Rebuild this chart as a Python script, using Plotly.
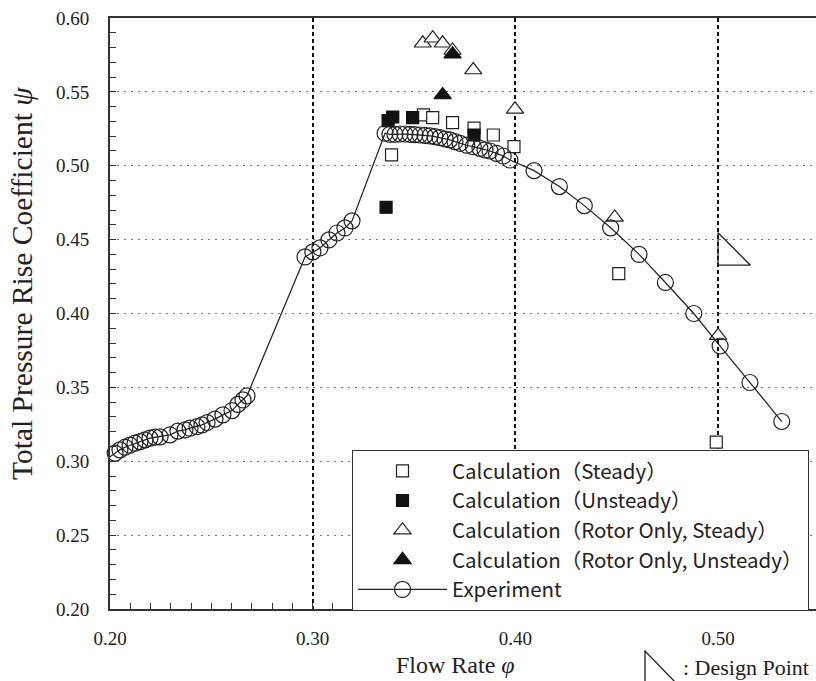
import plotly.graph_objects as go

# ---------------- data ----------------
exp_phi = [0.1997, 0.2025, 0.2049, 0.2074, 0.2099, 0.2123, 0.2148, 0.2173, 0.2197, 0.2222,
           0.2247, 0.2296, 0.2335, 0.2370, 0.2395, 0.2429, 0.2454, 0.2479, 0.2518, 0.2557,
           0.2602, 0.2631, 0.2656, 0.2676,
           0.2962, 0.3001, 0.3036, 0.3080, 0.3120, 0.3159, 0.3194,
           0.3357, 0.3381, 0.3406, 0.3431, 0.3455, 0.3480, 0.3505, 0.3529, 0.3554, 0.3579,
           0.3603, 0.3628, 0.3653, 0.3677, 0.3702, 0.3727, 0.3760, 0.3792, 0.3825, 0.3850,
           0.3875, 0.3907, 0.3940, 0.3973,
           0.4092, 0.4217, 0.4340, 0.4470, 0.4610, 0.4740, 0.4880, 0.5010, 0.5157, 0.5314]
exp_psi = [0.3028, 0.3055, 0.3077, 0.3095, 0.3109, 0.3122, 0.3133, 0.3145, 0.3156, 0.3163,
           0.3165, 0.3179, 0.3204, 0.3212, 0.3224, 0.3235, 0.3246, 0.3262, 0.3285, 0.3314,
           0.3343, 0.3385, 0.3415, 0.3443,
           0.4383, 0.4417, 0.4444, 0.4498, 0.4545, 0.4579, 0.4627,
           0.5220, 0.5213, 0.5213, 0.5215, 0.5215, 0.5213, 0.5211, 0.5208, 0.5206, 0.5202,
           0.5197, 0.5190, 0.5181, 0.5175, 0.5163, 0.5152, 0.5139, 0.5129, 0.5118, 0.5107,
           0.5100, 0.5084, 0.5066, 0.5039,
           0.4967, 0.4859, 0.4730, 0.4580, 0.4400, 0.4210, 0.4000, 0.3780, 0.3533, 0.3269]

steady_phi = [0.3389, 0.3546, 0.3592, 0.3690, 0.3796, 0.3891, 0.3993, 0.4510, 0.4991]
steady_psi = [0.5073, 0.5344, 0.5326, 0.5292, 0.5254, 0.5208, 0.5129, 0.4270, 0.3129]

unsteady_phi = [0.3362, 0.3372, 0.3395, 0.3493, 0.3796]
unsteady_psi = [0.4719, 0.5305, 0.5330, 0.5326, 0.5208]

rotor_steady_phi = [0.3543, 0.3592, 0.3641, 0.3690, 0.3792, 0.3998, 0.4490, 0.5000]
rotor_steady_psi = [0.5829, 0.5863, 0.5829, 0.5780, 0.5648, 0.5382, 0.4650, 0.3850]

rotor_unsteady_phi = [0.3641, 0.3690]
rotor_unsteady_psi = [0.5479, 0.5755]

design_phi = [0.5053]
design_psi = [0.4400]

x_ticks = [0.20, 0.30, 0.40, 0.50]
x_ticktext = ["0.20", "0.30", "0.40", "0.50"]

legend_names = ["Calculation（Steady）", "Calculation（Unsteady）",
                "Calculation（Rotor Only, Steady）", "Calculation（Rotor Only, Unsteady）",
                "Experiment"]

# ---------------- figure ----------------
INK = "#222222"
fig = go.Figure()

fig.add_trace(go.Scatter(x=steady_phi, y=steady_psi, mode="markers", name=legend_names[0],
                         legendgroup="g1",
                         marker=dict(symbol="square", size=12, color="white",
                                     line=dict(color=INK, width=1.2))))
fig.add_trace(go.Scatter(x=unsteady_phi, y=unsteady_psi, mode="markers", name=legend_names[1],
                         legendgroup="g2",
                         marker=dict(symbol="square", size=12, color="#111111",
                                     line=dict(color="#111111", width=1.2))))
fig.add_trace(go.Scatter(x=rotor_steady_phi, y=rotor_steady_psi, mode="markers", name=legend_names[2],
                         legendgroup="g3",
                         marker=dict(symbol="triangle-up", size=15, color="white",
                                     line=dict(color=INK, width=1.2))))
fig.add_trace(go.Scatter(x=rotor_unsteady_phi, y=rotor_unsteady_psi, mode="markers", name=legend_names[3],
                         legendgroup="g4",
                         marker=dict(symbol="triangle-up", size=15, color="#111111",
                                     line=dict(color="#111111", width=1.2))))
fig.add_trace(go.Scatter(x=exp_phi, y=exp_psi, mode="lines+markers", name=legend_names[4],
                         legendgroup="g5", cliponaxis=False,
                         line=dict(color=INK, width=1.2),
                         marker=dict(symbol="circle-open", size=16, color=INK,
                                     line=dict(color=INK, width=1.2))))
fig.add_trace(go.Scatter(x=design_phi, y=design_psi, mode="markers", showlegend=False,
                         marker=dict(symbol="triangle-sw-open", size=36, color=INK,
                                     line=dict(color=INK, width=1.3))))

W, H = 816, 681
L, R, T, B = 110, 0, 18, 72
pw, ph = W - L - R, H - T - B


def px(xp):
    return (xp - L) / pw


def py(yp):
    return (H - B - yp) / ph


serif = "Liberation Serif"

fig.update_layout(
    width=W, height=H,
    margin=dict(l=L, r=R, t=T, b=B, pad=0, autoexpand=False),
    plot_bgcolor="white", paper_bgcolor="white",
    showlegend=True,
    legend=dict(x=px(352), y=py(450), xanchor="left", yanchor="top",
                bgcolor="white", bordercolor="#333333", borderwidth=1,
                font=dict(family="Noto Sans CJK JP", size=20.5, color=INK),
                itemwidth=89, tracegroupgap=0),
    font=dict(family=serif, color=INK),
)

fig.update_xaxes(range=[0.2, 0.5483], tickvals=x_ticks, ticktext=x_ticktext,
                 automargin=False,
                 ticks="inside", ticklen=6, tickwidth=1, tickcolor="#333333",
                 minor=dict(dtick=0.01, tick0=0.2, ticks="inside", ticklen=6,
                            tickwidth=1, tickcolor="#333333", showgrid=False),
                 showline=True, linecolor="#333333", linewidth=2, mirror=True,
                 showgrid=True, gridcolor="#111111", gridwidth=2, griddash="4px,3px",
                 zeroline=False, ticklabelstandoff=11,
                 tickfont=dict(family=serif, size=19, color=INK))
fig.update_yaxes(range=[0.2, 0.6], dtick=0.05, tick0=0.2, tickformat=".2f",
                 automargin=False,
                 ticks="inside", ticklen=6, tickwidth=1, tickcolor="#333333",
                 minor=dict(dtick=0.01, tick0=0.2, ticks="inside", ticklen=6,
                            tickwidth=1, tickcolor="#333333", showgrid=False),
                 showline=True, linecolor="#333333", linewidth=2,
                 showgrid=True, gridcolor="#777777", gridwidth=1, griddash="2px,5px",
                 zeroline=False, ticklabelstandoff=15,
                 tickfont=dict(family=serif, size=19, color=INK))

fig.add_annotation(xref="paper", yref="paper", x=px(455), y=py(665),
                   text="Flow Rate <i>φ</i>", showarrow=False,
                   xanchor="center", yanchor="middle",
                   font=dict(family=serif, size=24, color=INK))
fig.add_annotation(xref="paper", yref="paper", x=px(22), y=py(284),
                   text="Total Pressure Rise Coefficient <i>ψ</i>", showarrow=False,
                   textangle=-90, xanchor="center", yanchor="middle",
                   font=dict(family=serif, size=29.5, color=INK))
fig.add_annotation(xref="paper", yref="paper", x=px(681), y=py(667),
                   text=": Design Point", showarrow=False,
                   xanchor="left", yanchor="middle",
                   font=dict(family=serif, size=22, color=INK))
# key symbol for the design point (legend decoration below the axis)
fig.add_shape(type="path", xref="paper", yref="paper",
              path=f"M {px(645)},{py(651)} L {px(645)},{py(684)} L {px(677)},{py(684)} Z",
              line=dict(color=INK, width=1.3))

fig.write_html("out.html", config={"displayModeBar": False},
               post_script="document.body.style.margin='0';")
